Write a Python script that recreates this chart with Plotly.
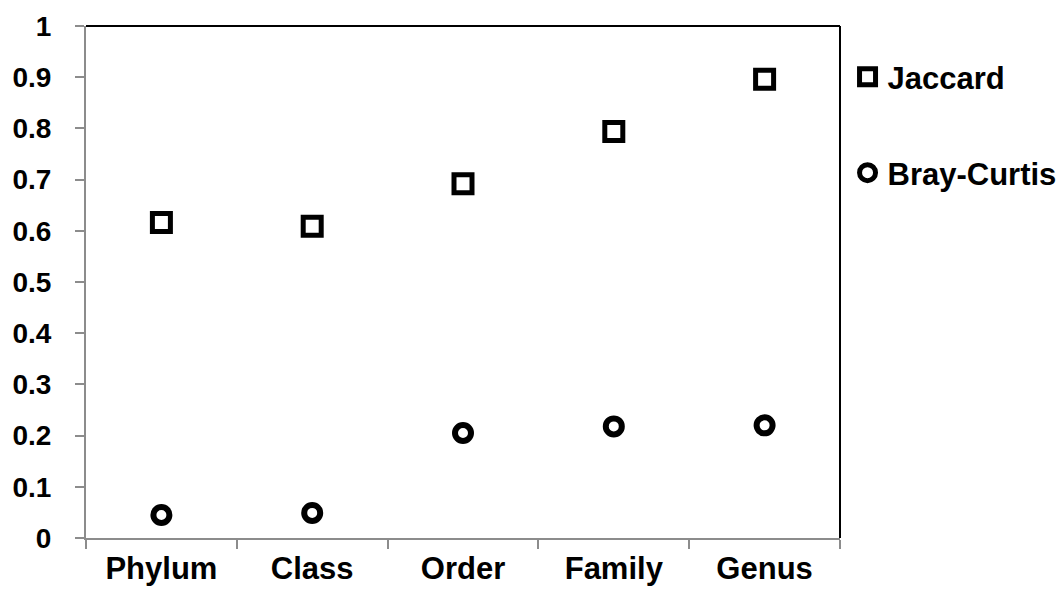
import plotly.graph_objects as go

categories = ["Phylum", "Class", "Order", "Family", "Genus"]
jaccard = [0.616, 0.609, 0.692, 0.794, 0.896]
bray_curtis = [0.045, 0.049, 0.205, 0.218, 0.220]
y_ticks = [0, 0.1, 0.2, 0.3, 0.4, 0.5, 0.6, 0.7, 0.8, 0.9, 1]
y_tick_labels = ["0", "0.1", "0.2", "0.3", "0.4", "0.5", "0.6", "0.7", "0.8", "0.9", "1"]

FONT = "Liberation Sans, Arial, sans-serif"
AXIS_GRAY = "#8c8c8c"
FS_Y = 28
FS_X = 31
FS_LEG = 31

fig = go.Figure()
fig.add_trace(go.Scatter(
    x=categories, y=jaccard, mode="markers", name="Jaccard",
    marker=dict(symbol="square", size=18, color="white",
                line=dict(color="black", width=5)),
    legend="legend",
))
fig.add_trace(go.Scatter(
    x=categories, y=bray_curtis, mode="markers", name="Bray-Curtis",
    marker=dict(symbol="circle", size=16, color="white",
                line=dict(color="black", width=6)),
    legend="legend2",
))

# page body has an 8px margin; compensate so the plot area lands at the reference position
OFF = 8
W, H = 1064 - OFF, 594 - OFF
L, R, T, B = 86 - OFF, 224, 26 - OFF, 56
PH = H - T - B

legend_common = dict(
    font=dict(family=FONT, size=FS_LEG, color="black", weight="bold"),
    bgcolor="rgba(0,0,0,0)", xanchor="left", yanchor="middle",
    itemwidth=30,
)

fig.update_layout(
    width=W, height=H,
    margin=dict(l=L, r=R, t=T, b=B, autoexpand=False),
    paper_bgcolor="white", plot_bgcolor="white",
    font=dict(family=FONT, size=FS_Y, color="black", weight="bold"),
    showlegend=True,
    legend=dict(x=1.01, y=1 - (77 - 26) / PH, **legend_common),
    legend2=dict(x=1.01, y=1 - (173 - 26) / PH, **legend_common),
    xaxis=dict(
        type="category", range=[-0.5, 4.5], automargin=False,
        showline=True, linecolor=AXIS_GRAY, linewidth=2,
        ticks="outside", tickson="boundaries", ticklen=9, tickwidth=2, tickcolor=AXIS_GRAY,
        showgrid=False, zeroline=False,
        tickfont=dict(family=FONT, size=FS_X, color="black", weight="bold"),
        ticklabelstandoff=2,
    ),
    yaxis=dict(
        range=[0, 1], tickvals=y_ticks, ticktext=y_tick_labels, automargin=False,
        showline=True, linecolor=AXIS_GRAY, linewidth=2,
        ticks="outside", ticklen=9, tickwidth=2, tickcolor=AXIS_GRAY,
        showgrid=False, zeroline=False,
        tickfont=dict(family=FONT, size=FS_Y, color="black", weight="bold"),
        ticklabelstandoff=18,
    ),
    shapes=[
        dict(type="line", xref="paper", yref="paper", x0=0, x1=1, y0=1, y1=1,
             line=dict(color="black", width=2)),
        dict(type="line", xref="paper", yref="paper", x0=1, x1=1, y0=0, y1=1,
             line=dict(color="black", width=2)),
    ],
)

fig.write_html("out.html")
